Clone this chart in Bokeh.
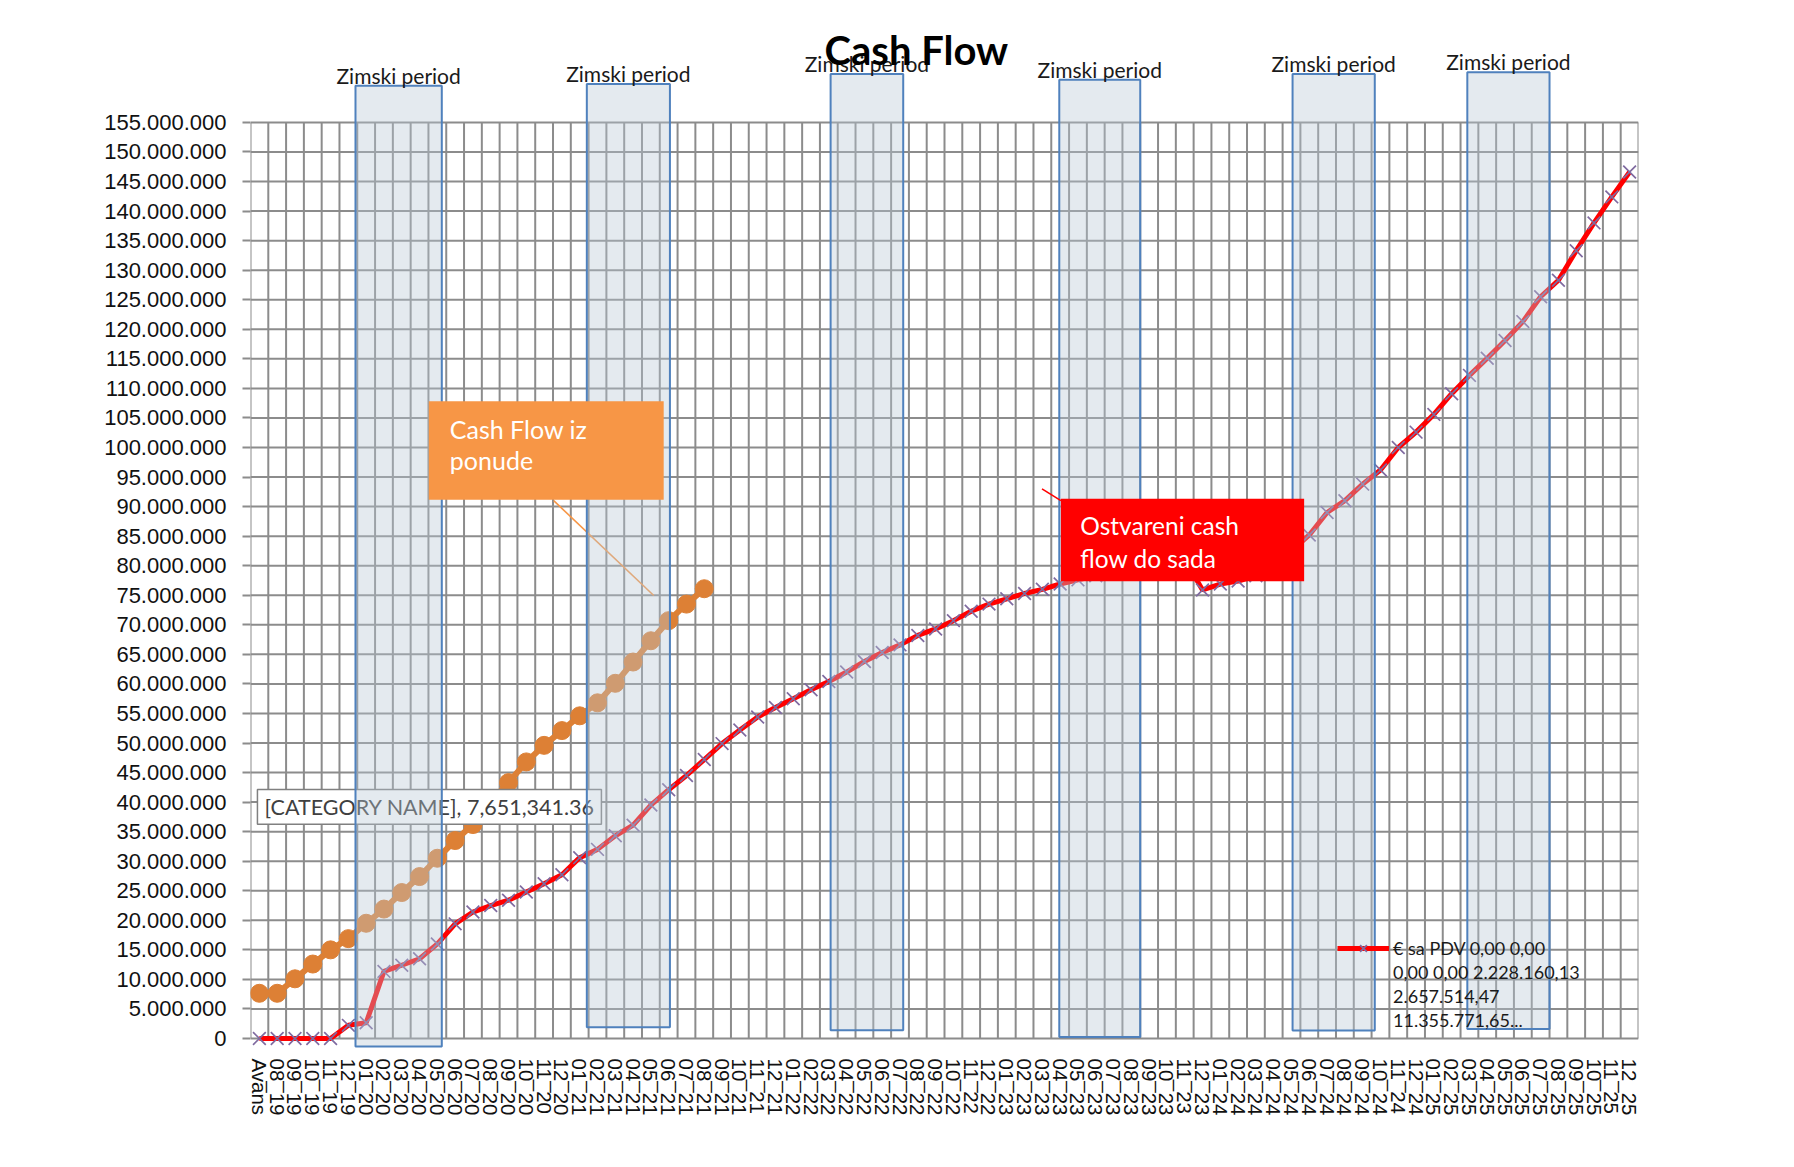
from bokeh.plotting import figure
from bokeh.models import FactorRange, Range1d, FixedTicker, Legend, LegendItem
from bokeh.embed import file_html
from bokeh.resources import INLINE
from bokeh.core.properties import value

# ---------------- data ----------------
categories = [
    "Avans", "08_19", "09_19", "10_19", "11_19", "12_19",
    "01_20", "02_20", "03_20", "04_20", "05_20", "06_20", "07_20", "08_20", "09_20", "10_20", "11_20", "12_20",
    "01_21", "02_21", "03_21", "04_21", "05_21", "06_21", "07_21", "08_21", "09_21", "10_21", "11_21", "12_21",
    "01_22", "02_22", "03_22", "04_22", "05_22", "06_22", "07_22", "08_22", "09_22", "10_22", "11_22", "12_22",
    "01_23", "02_23", "03_23", "04_23", "05_23", "06_23", "07_23", "08_23", "09_23", "10_23", "11_23", "12_23",
    "01_24", "02_24", "03_24", "04_24", "05_24", "06_24", "07_24", "08_24", "09_24", "10_24", "11_24", "12_24",
    "01_25", "02_25", "03_25", "04_25", "05_25", "06_25", "07_25", "08_25", "09_25", "10_25", "11_25", "12_25",
]

# "€ sa PDV" - realised cash flow (cumulative)
red_values = [
    0, 0, 0, 0, 0, 2228160.13, 2657514.47, 11355771.65, 12.4e6, 13.5e6,
    16.0e6, 19.4e6, 21.4e6, 22.5e6, 23.4e6, 24.8e6, 26.2e6, 27.7e6, 30.6e6, 32.0e6,
    34.3e6, 36.1e6, 39.5e6, 42.1e6, 44.5e6, 47.2e6, 49.9e6, 52.2e6, 54.4e6, 56.0e6,
    57.5e6, 59.0e6, 60.4e6, 62.0e6, 63.8e6, 65.3e6, 66.6e6, 68.2e6, 69.3e6, 70.7e6,
    72.3e6, 73.5e6, 74.4e6, 75.3e6, 76.0e6, 76.9e6, 77.6e6, 78.3e6, 79.0e6, 79.6e6,
    80.2e6, 80.7e6, 81.1e6, 75.9e6, 76.9e6, 77.4e6, 78.3e6, 80.2e6, 82.5e6, 85.2e6,
    89.0e6, 91.0e6, 93.8e6, 96.2e6, 100.0e6, 102.6e6, 105.6e6, 109.1e6, 112.2e6, 115.1e6,
    118.1e6, 121.3e6, 125.5e6, 128.3e6, 133.3e6, 138.0e6, 142.4e6, 146.6e6,
]

# "Cash Flow iz ponude" - planned cash flow (cumulative)
orange_values = [
    7651341.36, 7651341.36, 10.1e6, 12.6e6, 15.0e6, 16.9e6, 19.5e6, 21.9e6, 24.7e6, 27.4e6,
    30.5e6, 33.5e6, 36.2e6, 40.0e6, 43.3e6, 46.8e6, 49.6e6, 52.1e6, 54.6e6, 56.8e6,
    60.1e6, 63.7e6, 67.3e6, 70.7e6, 73.5e6, 76.1e6,
]

ytick_values = [
    0, 5000000, 10000000, 15000000, 20000000, 25000000, 30000000, 35000000,
    40000000, 45000000, 50000000, 55000000, 60000000, 65000000, 70000000, 75000000,
    80000000, 85000000, 90000000, 95000000, 100000000, 105000000, 110000000, 115000000,
    120000000, 125000000, 130000000, 135000000, 140000000, 145000000, 150000000, 155000000,
]
ytick_labels = [
    "0", "5.000.000", "10.000.000", "15.000.000", "20.000.000", "25.000.000", "30.000.000", "35.000.000",
    "40.000.000", "45.000.000", "50.000.000", "55.000.000", "60.000.000", "65.000.000", "70.000.000", "75.000.000",
    "80.000.000", "85.000.000", "90.000.000", "95.000.000", "100.000.000", "105.000.000", "110.000.000", "115.000.000",
    "120.000.000", "125.000.000", "130.000.000", "135.000.000", "140.000.000", "145.000.000", "150.000.000", "155.000.000",
]

# series name as it appears (wrapped) in the legend
legend_lines = ["€ sa PDV 0,00 0,00", "0,00 0,00 2.228.160,13", "2.657.514,47", "11.355.771,65..."]
winter_label = "Zimski period"

# winter period highlight boxes (category-axis units / value units)
winter_left = [5.9, 18.9, 32.6, 45.45, 58.56, 68.38]
winter_right = [10.75, 23.57, 36.68, 50.0, 63.18, 73.0]
winter_bottom = [-1.35e6, 1.9e6, 1.4e6, 0.25e6, 1.35e6, 1.6e6]
winter_top = [161.2e6, 161.5e6, 163.2e6, 162.2e6, 163.2e6, 163.5e6]

# ---------------- styles ----------------
GRID = "#8c8c8c"
RED = "#ff0000"
PURPLE = "#7f6aa0"
ORANGE = "#dd8035"
CALLOUT_ORANGE = "#f79646"
BLUE = "#4f81bd"
CAL = "Lato"

n = len(categories)

p = figure(
    width=1778, height=1151,
    x_range=FactorRange(*categories, range_padding=0, factor_padding=0),
    y_range=Range1d(-1.69e6, 171.4e6),
    output_backend="svg", toolbar_location=None,
    min_border_left=250, min_border_right=140, min_border_top=25, min_border_bottom=103,
)
p.xgrid.visible = False
p.ygrid.visible = False
p.outline_line_color = None
p.background_fill_color = "white"
p.border_fill_color = "white"

# axes
p.yaxis.ticker = FixedTicker(ticks=ytick_values)
p.yaxis.major_label_overrides = {v: s for v, s in zip(ytick_values, ytick_labels)}
p.yaxis.axis_line_color = None
p.yaxis.major_tick_line_color = GRID
p.yaxis.major_tick_line_width = 2
p.yaxis.major_tick_out = 8
p.yaxis.major_tick_in = 0
p.yaxis.minor_tick_line_color = None
p.yaxis.major_label_standoff = 16
p.yaxis.major_label_text_font = "Liberation Sans"
p.yaxis.major_label_text_font_size = "22px"
p.yaxis.major_label_text_color = "#111111"

p.xaxis.axis_line_color = None
p.xaxis.major_tick_line_color = None
p.xaxis.major_tick_out = 0
p.xaxis.major_tick_in = 0
p.xaxis.major_label_orientation = "vertical"
p.xaxis.major_label_standoff = 10
p.xaxis.major_label_text_font = "Liberation Sans"
p.xaxis.major_label_text_font_size = "20.5px"
p.xaxis.major_label_text_color = "#111111"

# grid (bounded to 0..155M like the original)
vx = list(range(n + 1))
p.segment(x0=vx, y0=[ytick_values[0]] * len(vx), x1=vx, y1=[ytick_values[-1]] * len(vx),
          line_color=GRID, line_width=2)
p.segment(x0=[0] * len(ytick_values), y0=ytick_values, x1=[n] * len(ytick_values), y1=ytick_values,
          line_color=GRID, line_width=2)

# planned cash flow (orange)
ocat = categories[:len(orange_values)]
p.line(ocat, orange_values, line_color=ORANGE, line_width=6)
p.scatter(ocat, orange_values, marker="circle", size=18, fill_color=ORANGE, line_color=ORANGE)

# realised cash flow (red)
r_line = p.line(categories, red_values, line_color=RED, line_width=5)
r_pts = p.scatter(categories, red_values, marker="x", size=18, line_color=PURPLE, line_width=1.7)

# data label of the first orange point
dl_text = "[CATEGORY NAME], " + f"{orange_values[0]:,.2f}"
p.quad(left=[0.39], right=[19.72], bottom=[36.26e6], top=[42.13e6],
       fill_color="white", line_color="#808080", line_width=1.5)
p.text(x=[0.79], y=[39.17e6], text=[dl_text], text_font=value(CAL), text_font_size="21.5px",
       text_color="#404040", text_baseline="middle", text_align="left")

# orange callout leader (below winter boxes)
p.segment(x0=[17.04], y0=[91.0e6], x1=[22.66], y1=[74.96e6], line_color=CALLOUT_ORANGE, line_width=1.6)

# winter periods
p.quad(left=winter_left, right=winter_right, bottom=winter_bottom, top=winter_top,
       fill_color="#b8c7d4", fill_alpha=0.38, line_color=BLUE, line_width=2)
p.text(x=[(a + b) / 2 for a, b in zip(winter_left, winter_right)],
       y=[t + 1.75e6 for t in winter_top], text=[winter_label] * len(winter_left),
       text_font=value(CAL), text_font_size="21px", text_color="#1a1a1a",
       text_align="center", text_baseline="middle")

# orange callout
p.quad(left=[10.02], right=[23.22], bottom=[91.15e6], top=[107.83e6],
       fill_color=CALLOUT_ORANGE, line_color=None)
p.text(x=[11.2, 11.2], y=[103.2e6, 97.8e6], text=["Cash Flow  iz", "ponude"],
       text_font=value(CAL), text_font_size="25px", text_color="white",
       text_align="left", text_baseline="middle")

# red callout
p.segment(x0=[44.48], y0=[93.0e6], x1=[45.54], y1=[91.0e6], line_color=RED, line_width=1.6)
p.quad(left=[45.54], right=[59.21], bottom=[77.38e6], top=[91.32e6],
       fill_color=RED, line_color=None)
p.text(x=[46.63, 46.63], y=[86.8e6, 81.2e6], text=["Ostvareni cash", "flow do sada"],
       text_font=value(CAL), text_font_size="24.5px", text_color="white",
       text_align="left", text_baseline="middle")

# chart title
p.text(x=[37.42], y=[167.3e6], text=["Cash Flow"], text_font=value(CAL), text_font_size="40px",
       text_font_style="bold", text_color="black", text_align="center", text_baseline="middle")

# legend (series name wraps over four lines, glyph on the first)
items = [LegendItem(label=legend_lines[0], renderers=[r_line, r_pts])]
items += [LegendItem(label=s, renderers=[]) for s in legend_lines[1:]]
legend = Legend(
    items=items,
    location=(1087, 16), glyph_width=52, glyph_height=24, label_height=24, label_standoff=4,
    padding=0, margin=0, spacing=0,
    background_fill_alpha=0, border_line_alpha=0,
    label_text_font=CAL, label_text_font_size="18px", label_text_color="#1a1a1a",
)
p.add_layout(legend)

open("out.html", "w").write(file_html(p, INLINE))
